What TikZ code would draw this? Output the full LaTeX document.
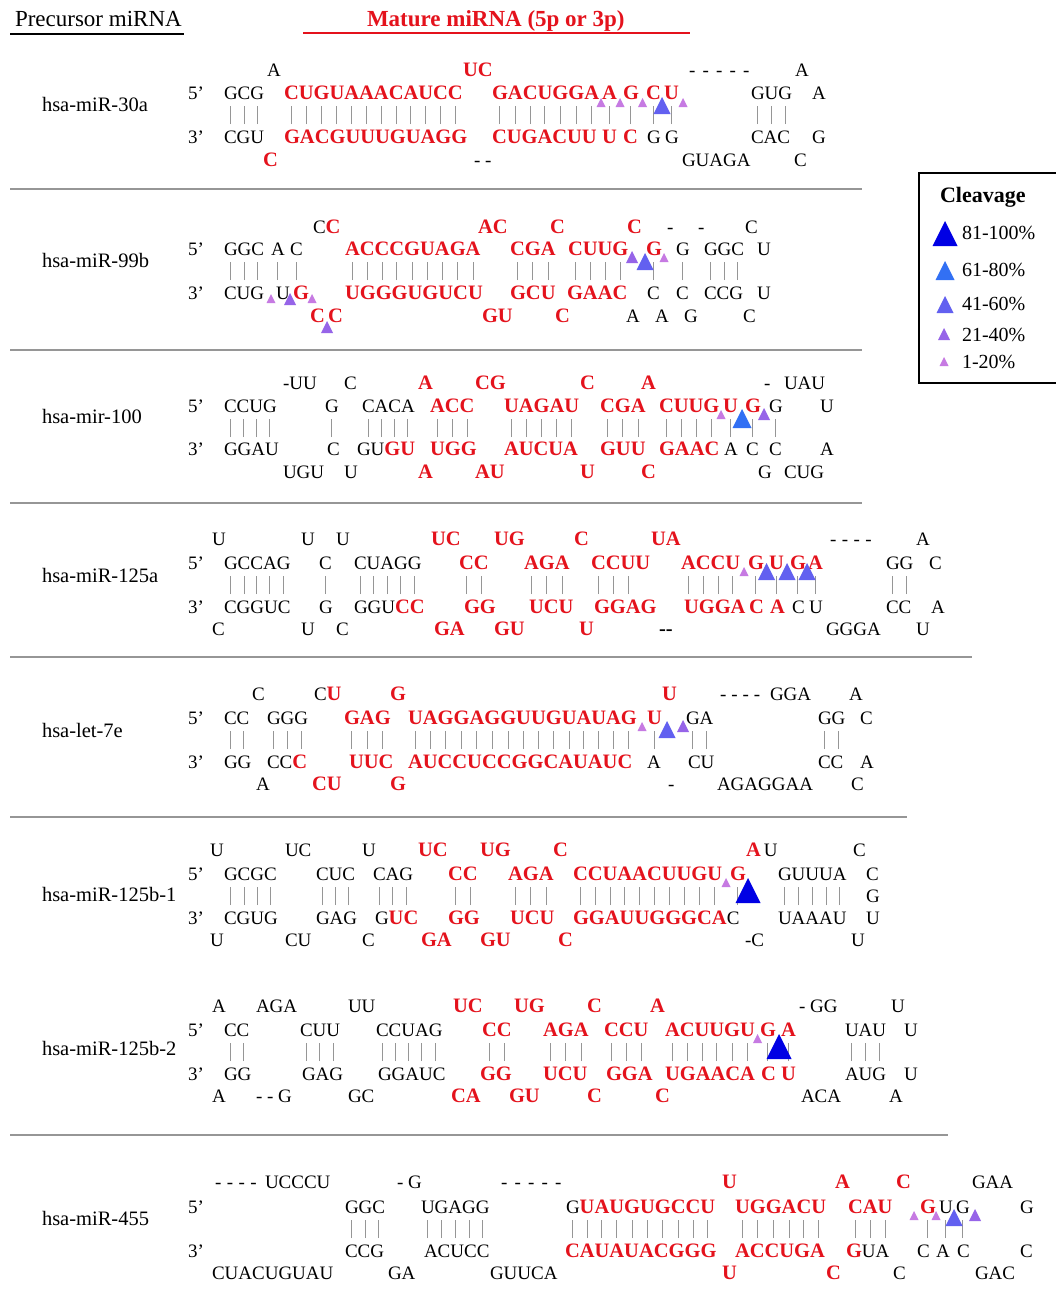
\documentclass[tikz,border=0pt]{standalone}
\usepackage{fontspec}
\setmainfont{Liberation Serif}
\definecolor{mred}{RGB}{228,18,28}
\definecolor{pairgray}{RGB}{150,150,150}
\definecolor{rulegray}{RGB}{150,150,150}
\definecolor{cA}{RGB}{198,122,226}
\definecolor{cB}{RGB}{150,100,232}
\definecolor{cC}{RGB}{98,96,240}
\definecolor{cD}{RGB}{50,112,244}
\definecolor{cE}{RGB}{0,0,228}

\newcommand\sq{\fontsize{19}{22}\selectfont}
\newcommand\sqb{\fontsize{20.5}{22}\selectfont\bfseries}
\newcommand\rb[1]{{\color{mred}\sqb #1}}
\newcommand\dd{\hspace{7.2pt}}
% paired nucleotides: every letter gets a base-pair bar in the row below
\makeatletter
\newcommand\pr[1]{\@tfor\pr@c:=#1\do{\pr@one{\pr@c}}}
\newcommand\pr@one[1]{\setbox0\hbox{#1}\rlap{\hbox to \wd0{\hss{\color{pairgray}\raisebox{-24.75pt}{\rule{1pt}{18pt}}}\hss}}\box0}
\makeatother

\newcounter{nd}
\newcommand\tx[4][]{\stepcounter{nd}\node[nt,#1] (n\arabic{nd}) at (#2,#3) {#4};}
% cleavage triangle: class (1..5), centre x, base y
\newcommand\cut[3]{%
  \ifcase#1\or\def\cutw{9}\def\cutc{cA}\or\def\cutw{12}\def\cutc{cB}\or
  \def\cutw{17}\def\cutc{cC}\or\def\cutw{19}\def\cutc{cD}\or\def\cutw{25}\def\cutc{cE}\fi
  \fill[\cutc] ({#2-\cutw/2},{#3}) -- ({#2+\cutw/2},{#3}) -- ({#2},{#3-\cutw}) -- cycle;}

\tikzset{
  nt/.style={anchor=west,inner sep=0pt,outer sep=0pt,text height=12.5pt,text depth=0pt,font=\sq},
  rd/.style={font=\sqb,text=mred},
  lbl/.style={font=\fontsize{20.5}{22}\selectfont},
  leg/.style={font=\fontsize{20}{22}\selectfont},
  sep/.style={draw=rulegray,line width=1.3pt},
}

\begin{document}
\begin{tikzpicture}[x=1pt,y=-1pt]
\useasboundingbox (0,0) rectangle (1056,1307);
\fill[white] (0,0) rectangle (1056,1307);

% header
\tx[font=\fontsize{23}{25}\selectfont]{15}{20}{Precursor miRNA}
\draw[line width=2.5pt] (10,34) -- (184,34);
\tx[font=\fontsize{23}{25}\selectfont\bfseries,text=mred]{367}{20}{Mature miRNA (5p or 3p)}
\draw[mred,line width=2pt] (303,33) -- (690,33);

% legend
\draw[line width=2.5pt] (919,173) rectangle (1075,383);
\tx[font=\fontsize{22}{24}\selectfont\bfseries]{940}{196}{Cleavage}
\cut{5}{945}{246}\tx[leg]{962}{233}{81-100\%}
\cut{4}{945}{280}\tx[leg]{962}{270}{61-80\%}
\cut{3}{945}{313}\tx[leg]{962}{304}{41-60\%}
\cut{2}{944}{340}\tx[leg]{962}{335}{21-40\%}
\cut{1}{944}{366}\tx[leg]{962}{362}{1-20\%}

% separators
\draw[sep] (10,189) -- (862,189);
\draw[sep] (10,350) -- (862,350);
\draw[sep] (10,503) -- (862,503);
\draw[sep] (10,657) -- (972,657);
\draw[sep] (10,817) -- (907,817);
\draw[sep] (10,1135) -- (948,1135);

% ---------- hsa-miR-30a
\def\yT{70}\def\yF{93}\def\yR{137}\def\yL{160}
\tx[lbl]{42}{105}{hsa-miR-30a}
\tx{188}{\yF}{5’}\tx{188}{\yR}{3’}
\tx{267}{\yT}{A}\tx[rd]{463}{\yT}{UC}\tx{689}{\yT}{-\dd-\dd-\dd-\dd-}\tx{795}{\yT}{A}
\tx{224}{\yF}{\pr{GCG}}\tx[rd]{284}{\yF}{\pr{CUGUAAACAUCC}}\tx[rd]{492}{\yF}{\pr{GACUGGA}}
\tx[rd]{602}{\yF}{\pr{A}}\tx[rd]{623}{\yF}{\pr{G}}\tx[rd]{646}{\yF}{\pr{C}}\tx[rd]{664}{\yF}{\pr{U}}
\tx{751}{\yF}{\pr{GUG}}\tx{812}{\yF}{A}
\tx{224}{\yR}{CGU}\tx[rd]{284}{\yR}{GACGUUUGUAGG}\tx[rd]{492}{\yR}{CUGACUU}
\tx[rd]{602}{\yR}{U}\tx[rd]{623}{\yR}{C}\tx{647}{\yR}{G}\tx{665}{\yR}{G}\tx{751}{\yR}{CAC}\tx{812}{\yR}{G}
\tx[rd]{263}{\yL}{C}\tx{474}{\yL}{- -}\tx{682}{\yL}{GUAGA}\tx{794}{\yL}{C}
\cut{1}{601}{\yF+14}\cut{1}{620}{\yF+14}\cut{1}{642.5}{\yF+14}\cut{3}{662}{\yF+21}\cut{1}{683}{\yF+14}

% ---------- hsa-miR-99b
\def\yT{227}\def\yF{249}\def\yR{293}\def\yL{316}
\tx[lbl]{42}{261}{hsa-miR-99b}
\tx{188}{\yF}{5’}\tx{188}{\yR}{3’}
\tx{313}{\yT}{C\rb{C}}\tx[rd]{478}{\yT}{AC}\tx[rd]{550}{\yT}{C}\tx[rd]{627}{\yT}{C}\tx{667}{\yT}{-}\tx{698}{\yT}{-}\tx{745}{\yT}{C}
\tx{224}{\yF}{\pr{GGC}}\tx{271}{\yF}{\pr{A}}\tx{290}{\yF}{\pr{C}}\tx[rd]{345}{\yF}{\pr{ACCCGUAGA}}
\tx[rd]{510}{\yF}{\pr{CGA}}\tx[rd]{568}{\yF}{\pr{CUUG}}\tx[rd]{646}{\yF}{\pr{G}}\tx{676}{\yF}{\pr{G}}\tx{704}{\yF}{\pr{GGC}}\tx{757}{\yF}{U}
\tx{224}{\yR}{CUG}\tx{276}{\yR}{U}\tx[rd]{293}{\yR}{G}\tx[rd]{345}{\yR}{UGGGUGUCU}\tx[rd]{510}{\yR}{GCU}
\tx[rd]{567}{\yR}{GAAC}\tx{647}{\yR}{C}\tx{676}{\yR}{C}\tx{704}{\yR}{CCG}\tx{757}{\yR}{U}
\tx[rd]{310}{\yL}{C}\tx[rd]{328}{\yL}{C}\tx[rd]{482}{\yL}{GU}\tx[rd]{555}{\yL}{C}\tx{626}{\yL}{A}\tx{655}{\yL}{A}\tx{684}{\yL}{G}\tx{743}{\yL}{C}
\cut{2}{632}{\yF+14}\cut{3}{645}{\yF+21}\cut{1}{664}{\yF+13}
\cut{1}{271}{\yR+10}\cut{2}{290}{\yR+12}\cut{1}{312}{\yR+10}\cut{2}{327}{\yL+17}

% ---------- hsa-mir-100
\def\yT{383}\def\yF{406}\def\yR{449}\def\yL{472}
\tx[lbl]{42}{417}{hsa-mir-100}
\tx{188}{\yF}{5’}\tx{188}{\yR}{3’}
\tx{283}{\yT}{-UU}\tx{344}{\yT}{C}\tx[rd]{418}{\yT}{A}\tx[rd]{475}{\yT}{CG}\tx[rd]{580}{\yT}{C}\tx[rd]{641}{\yT}{A}\tx{764}{\yT}{-}\tx{784}{\yT}{UAU}
\tx{224}{\yF}{\pr{CCUG}}\tx{325}{\yF}{\pr{G}}\tx{362}{\yF}{\pr{CACA}}\tx[rd]{430}{\yF}{\pr{ACC}}\tx[rd]{504}{\yF}{\pr{UAGAU}}
\tx[rd]{600}{\yF}{\pr{CGA}}\tx[rd]{659}{\yF}{\pr{CUUG}}\tx[rd]{723}{\yF}{\pr{U}}\tx[rd]{745}{\yF}{\pr{G}}\tx{769}{\yF}{\pr{G}}\tx{820}{\yF}{U}
\tx{224}{\yR}{GGAU}\tx{327}{\yR}{C}\tx{357}{\yR}{GU\rb{GU}}\tx[rd]{430}{\yR}{UGG}\tx[rd]{504}{\yR}{AUCUA}
\tx[rd]{600}{\yR}{GUU}\tx[rd]{659}{\yR}{GAAC}\tx{724}{\yR}{A}\tx{746}{\yR}{C}\tx{769}{\yR}{C}\tx{820}{\yR}{A}
\tx{283}{\yL}{UGU}\tx{344}{\yL}{U}\tx[rd]{418}{\yL}{A}\tx[rd]{475}{\yL}{AU}\tx[rd]{580}{\yL}{U}\tx[rd]{641}{\yL}{C}\tx{758}{\yL}{G}\tx{784}{\yL}{CUG}
\cut{1}{721}{\yF+13}\cut{4}{742}{\yF+22}\cut{2}{764}{\yF+14}

% ---------- hsa-miR-125a
\def\yT{539}\def\yF{563}\def\yR{607}\def\yL{629}
\tx[lbl]{42}{576}{hsa-miR-125a}
\tx{188}{\yF}{5’}\tx{188}{\yR}{3’}
\tx{212}{\yT}{U}\tx{301}{\yT}{U}\tx{336}{\yT}{U}\tx[rd]{431}{\yT}{UC}\tx[rd]{494}{\yT}{UG}\tx[rd]{574}{\yT}{C}\tx[rd]{651}{\yT}{UA}\tx{830}{\yT}{-\hspace{5.5pt}-\hspace{5.5pt}-\hspace{5.5pt}-}\tx{916}{\yT}{A}
\tx{224}{\yF}{\pr{GCCAG}}\tx{319}{\yF}{\pr{C}}\tx{354}{\yF}{\pr{CUAGG}}\tx[rd]{459}{\yF}{\pr{CC}}\tx[rd]{524}{\yF}{\pr{AGA}}
\tx[rd]{591}{\yF}{\pr{CCU}U}\tx[rd]{681}{\yF}{\pr{ACCU}}\tx[rd]{748}{\yF}{\pr{G}}\tx[rd]{769}{\yF}{\pr{U}}\tx[rd]{790}{\yF}{\pr{G}}\tx[rd]{808}{\yF}{\pr{A}}
\tx{886}{\yF}{\pr{GG}}\tx{929}{\yF}{C}
\tx{224}{\yR}{CGGUC}\tx{319}{\yR}{G}\tx{354}{\yR}{GGU\rb{CC}}\tx[rd]{464}{\yR}{GG}\tx[rd]{529}{\yR}{UCU}\tx[rd]{594}{\yR}{GGAG}
\tx[rd]{684}{\yR}{UGGA}\tx[rd]{749}{\yR}{C}\tx[rd]{770}{\yR}{A}\tx{792}{\yR}{C}\tx{809}{\yR}{U}\tx{886}{\yR}{CC}\tx{931}{\yR}{A}
\tx{212}{\yL}{C}\tx{301}{\yL}{U}\tx{336}{\yL}{C}\tx[rd]{434}{\yL}{GA}\tx[rd]{494}{\yL}{GU}\tx[rd]{579}{\yL}{U}\tx[font=\sqb]{659}{\yL}{-{}-}\tx{826}{\yL}{GGGA}\tx{916}{\yL}{U}
\cut{1}{744}{\yF+13}\cut{3}{766.5}{\yF+17}\cut{3}{787}{\yF+17}\cut{3}{807}{\yF+17}

% ---------- hsa-let-7e
\def\yT{694}\def\yF{718}\def\yR{762}\def\yL{784}
\tx[lbl]{42}{731}{hsa-let-7e}
\tx{188}{\yF}{5’}\tx{188}{\yR}{3’}
\tx{252}{\yT}{C}\tx{314}{\yT}{C\rb{U}}\tx[rd]{390}{\yT}{G}\tx[rd]{662}{\yT}{U}\tx{720}{\yT}{-\hspace{5pt}-\hspace{5pt}-\hspace{5pt}-}\tx{770}{\yT}{GGA}\tx{849}{\yT}{A}
\tx{224}{\yF}{\pr{CC}}\tx{267}{\yF}{\pr{GGG}}\tx[rd]{344}{\yF}{\pr{GAG}}\tx[rd]{408}{\yF}{\pr{UAGGAGGUUGUAUAG}}
\tx[rd]{647}{\yF}{\pr{U}}\tx{686}{\yF}{\pr{GA}}\tx{818}{\yF}{\pr{GG}}\tx{860}{\yF}{C}
\tx{224}{\yR}{GG}\tx{267}{\yR}{CC\rb{C}}\tx[rd]{349}{\yR}{UUC}\tx[rd]{408}{\yR}{AUCCUCCGGCAUAUC}
\tx{647}{\yR}{A}\tx{688}{\yR}{CU}\tx{818}{\yR}{CC}\tx{860}{\yR}{A}
\tx{256}{\yL}{A}\tx[rd]{312}{\yL}{CU}\tx[rd]{390}{\yL}{G}\tx{668}{\yL}{-}\tx{717}{\yL}{AGAGGAA}\tx{851}{\yL}{C}
\cut{1}{642}{\yF+13}\cut{3}{667}{\yF+20}\cut{2}{683}{\yF+14}

% ---------- hsa-miR-125b-1
\def\yT{850}\def\yF{874}\def\yB{896}\def\yR{918}\def\yL{940}
\tx[lbl]{42}{895}{hsa-miR-125b-1}
\tx{188}{\yF}{5’}\tx{188}{\yR}{3’}
\tx{210}{\yT}{U}\tx{285}{\yT}{UC}\tx{362}{\yT}{U}\tx[rd]{418}{\yT}{UC}\tx[rd]{480}{\yT}{UG}\tx[rd]{553}{\yT}{C}\tx{746}{\yT}{\rb{A}\,U}\tx{853}{\yT}{C}
\tx{224}{\yF}{\pr{GCGC}}\tx{316}{\yF}{\pr{CUC}}\tx{373}{\yF}{\pr{CAG}}\tx[rd]{448}{\yF}{\pr{CC}}\tx[rd]{508}{\yF}{\pr{AGA}}
\tx[rd]{573}{\yF}{\pr{CCUAACUUGU}}\tx[rd]{730}{\yF}{\pr{G}}\tx{778}{\yF}{\pr{GUUUA}}\tx{866}{\yF}{C}
\tx{866}{\yB}{G}
\tx{224}{\yR}{CGUG}\tx{316}{\yR}{GAG}\tx{375}{\yR}{G\rb{UC}}\tx[rd]{448}{\yR}{GG}\tx[rd]{510}{\yR}{UCU}
\tx{573}{\yR}{\rb{GGAUUGGGCA}C}\tx{778}{\yR}{UAAAU}\tx{866}{\yR}{U}
\tx{210}{\yL}{U}\tx{285}{\yL}{CU}\tx{362}{\yL}{C}\tx[rd]{421}{\yL}{GA}\tx[rd]{480}{\yL}{GU}\tx[rd]{558}{\yL}{C}\tx{745}{\yL}{-C}\tx{851}{\yL}{U}
\cut{1}{726}{\yF+13}\cut{5}{748}{\yF+29}

% ---------- hsa-miR-125b-2
\def\yT{1006}\def\yF{1030}\def\yR{1074}\def\yL{1096}
\tx[lbl]{42}{1049}{hsa-miR-125b-2}
\tx{188}{\yF}{5’}\tx{188}{\yR}{3’}
\tx{212}{\yT}{A}\tx{256}{\yT}{AGA}\tx{348}{\yT}{UU}\tx[rd]{453}{\yT}{UC}\tx[rd]{514}{\yT}{UG}\tx[rd]{587}{\yT}{C}\tx[rd]{650}{\yT}{A}\tx{799}{\yT}{- GG}\tx{891}{\yT}{U}
\tx{224}{\yF}{\pr{CC}}\tx{300}{\yF}{\pr{CUU}}\tx{376}{\yF}{\pr{CCUAG}}\tx[rd]{482}{\yF}{\pr{CC}}\tx[rd]{543}{\yF}{\pr{AGA}}
\tx[rd]{604}{\yF}{\pr{CCU}}\tx[rd]{665}{\yF}{\pr{ACUUGU}}\tx[rd]{760}{\yF}{\pr{G}}\tx[rd]{781}{\yF}{\pr{A}}\tx{845}{\yF}{\pr{UAU}}\tx{904}{\yF}{U}
\tx{224}{\yR}{GG}\tx{302}{\yR}{GAG}\tx{378}{\yR}{GGAUC}\tx[rd]{480}{\yR}{GG}\tx[rd]{543}{\yR}{UCU}\tx[rd]{606}{\yR}{GGA}
\tx[rd]{665}{\yR}{UGAACA}\tx[rd]{761}{\yR}{C}\tx[rd]{781}{\yR}{U}\tx{845}{\yR}{AUG}\tx{904}{\yR}{U}
\tx{212}{\yL}{A}\tx{256}{\yL}{- - G}\tx{348}{\yL}{GC}\tx[rd]{451}{\yL}{CA}\tx[rd]{509}{\yL}{GU}\tx[rd]{587}{\yL}{C}\tx[rd]{655}{\yL}{C}\tx{801}{\yL}{ACA}\tx{889}{\yL}{A}
\cut{1}{757.5}{\yF+13}\cut{5}{779}{\yF+29}

% ---------- hsa-miR-455
\def\yT{1182}\def\yF{1207}\def\yR{1251}\def\yL{1273}
\tx[lbl]{42}{1219}{hsa-miR-455}
\tx{188}{\yF}{5’}\tx{188}{\yR}{3’}
\tx{215}{\yT}{-\hspace{5.5pt}-\hspace{5.5pt}-\hspace{5.5pt}-}\tx{265}{\yT}{UCCCU}\tx{397}{\yT}{- G}\tx{501}{\yT}{-\dd-\dd-\dd-\dd-}
\tx[rd]{722}{\yT}{U}\tx[rd]{835}{\yT}{A}\tx[rd]{896}{\yT}{C}\tx{972}{\yT}{GAA}
\tx{345}{\yF}{\pr{GGC}}\tx{421}{\yF}{\pr{UGAGG}}\tx{566}{\yF}{\pr{G}\rb{\pr{UAUGUGCCU}}}\tx[rd]{735}{\yF}{\pr{UGGACU}}
\tx[rd]{848}{\yF}{\pr{CAU}}\tx[rd]{920}{\yF}{\pr{G}}\tx{939}{\yF}{\pr{U}}\tx{956}{\yF}{\pr{G}}\tx{1020}{\yF}{G}
\tx{345}{\yR}{CCG}\tx{424}{\yR}{ACUCC}\tx[rd]{565}{\yR}{CAUAUACGGG}\tx[rd]{735}{\yR}{ACCUGA}\tx{846}{\yR}{\rb{G}UA}
\tx{917}{\yR}{C}\tx{936}{\yR}{A}\tx{957}{\yR}{C}\tx{1020}{\yR}{C}
\tx{212}{\yL}{CUACUGUAU}\tx{388}{\yL}{GA}\tx{490}{\yL}{GUUCA}\tx[rd]{722}{\yL}{U}\tx[rd]{826}{\yL}{C}\tx{893}{\yL}{C}\tx{975}{\yL}{GAC}
\cut{1}{914}{\yF+13}\cut{1}{936}{\yF+13}\cut{3}{954}{\yF+19}\cut{2}{975}{\yF+14}
\end{tikzpicture}
\end{document}
